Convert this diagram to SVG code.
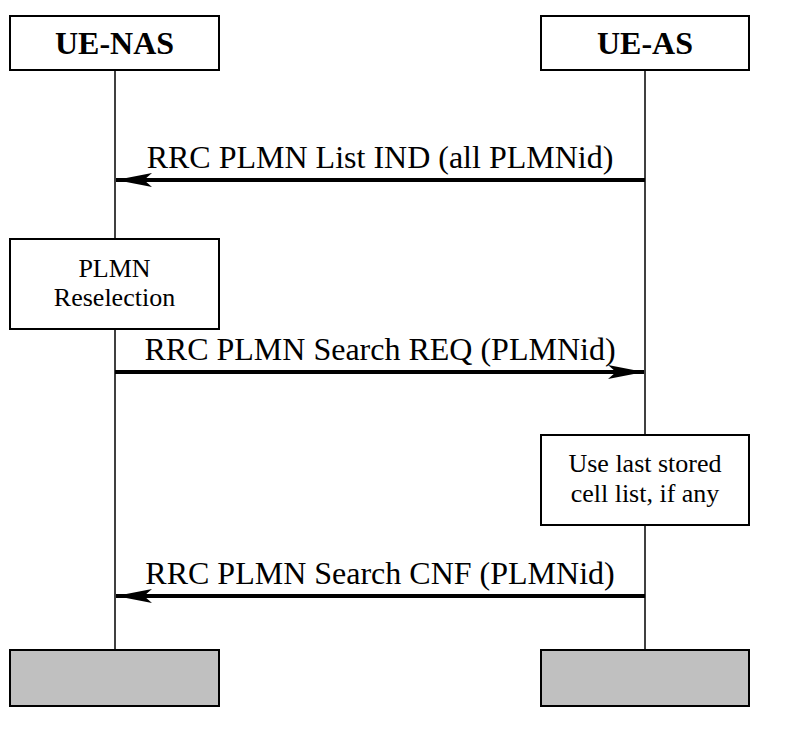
<svg xmlns="http://www.w3.org/2000/svg" width="789" height="731" viewBox="0 0 789 731">
<style>
.box{fill:#fff;stroke:#000;stroke-width:2}
.end{fill:#c0c0c0;stroke:#000;stroke-width:2}
.life{stroke:#000;stroke-width:1.5;fill:none}
.msg{stroke:#000;stroke-width:4;fill:none}
.t{font-family:"Liberation Serif",serif;fill:#000;text-anchor:middle}
.head{font-size:32px;font-weight:bold}
.lbl{font-size:32px}
.small{font-size:26px}
</style>
<defs>
<marker id="ah" viewBox="0 0 36 14" refX="36" refY="7" markerWidth="36" markerHeight="14" markerUnits="userSpaceOnUse" orient="auto">
<path d="M0,0 L36,7 L0,14 L8,7 Z" fill="#000"/>
</marker>
</defs>
<g id="lifelines">
<line class="life" x1="115" y1="70" x2="115" y2="650"/>
<line class="life" x1="645" y1="70" x2="645" y2="650"/>
</g>
<g id="ue-nas">
<rect class="box" x="10" y="16" width="209" height="54"/>
<text class="t head" x="114.5" y="54">UE-NAS</text>
</g>
<g id="ue-as">
<rect class="box" x="541" y="16" width="208" height="54"/>
<text class="t head" x="645" y="54">UE-AS</text>
</g>
<g id="plmn-reselection">
<rect class="box" x="10" y="239" width="209" height="90"/>
<text class="t small" x="114.5" y="277">PLMN</text>
<text class="t small" x="114.5" y="306">Reselection</text>
</g>
<g id="use-last-stored">
<rect class="box" x="541" y="435" width="208" height="90"/>
<text class="t small" x="645" y="472">Use last stored</text>
<text class="t small" x="645" y="502">cell list, if any</text>
</g>
<g id="end-nas">
<rect class="end" x="10" y="650" width="209" height="56"/>
</g>
<g id="end-as">
<rect class="end" x="541" y="650" width="208" height="56"/>
</g>
<g id="connectors">
<line class="msg" x1="645" y1="180" x2="116" y2="180" marker-end="url(#ah)"/>
<text class="t lbl" x="380" y="168">RRC PLMN List IND (all PLMNid)</text>
<line class="msg" x1="115" y1="372" x2="644" y2="372" marker-end="url(#ah)"/>
<text class="t lbl" x="380" y="360">RRC PLMN Search REQ (PLMNid)</text>
<line class="msg" x1="645" y1="596" x2="116" y2="596" marker-end="url(#ah)"/>
<text class="t lbl" x="380" y="584">RRC PLMN Search CNF (PLMNid)</text>
</g>
</svg>
